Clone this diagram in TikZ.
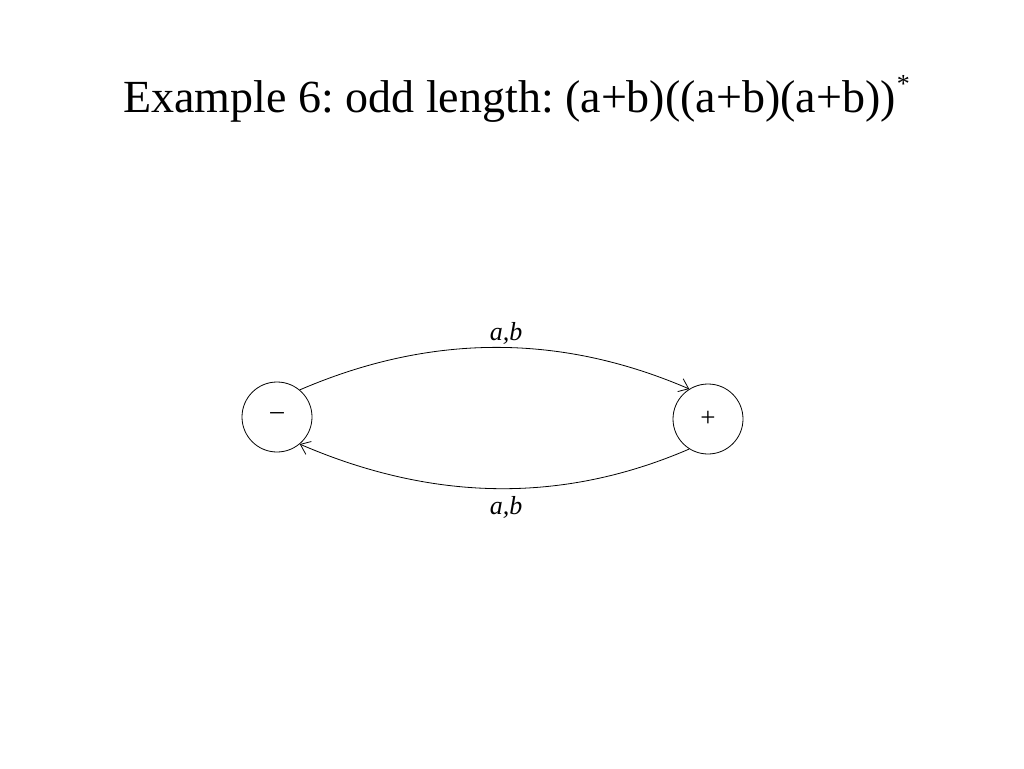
\documentclass[tikz,border=0pt]{standalone}
\usepackage{fontspec}
\setmainfont{Liberation Serif}
\usetikzlibrary{arrows.meta}
\frenchspacing
\begin{document}
\begin{tikzpicture}[x=1pt,y=-1pt,
  state/.style={draw,circle,line width=0.8pt,minimum size=70pt,inner sep=0pt,font=\fontsize{27}{29}\selectfont},
  edge/.style={draw,line width=0.8pt,-{Straight Barb[length=9pt,width=14pt]}},
  lbl/.style={font=\fontsize{26}{28}\selectfont\itshape}]
\useasboundingbox (0,0) rectangle (1024,768);
\node[anchor=base west,font=\fontsize{46}{50}\selectfont,inner sep=0pt] (title) at (123,112) {Example 6: odd length: (a+b)((a+b)(a+b))\kern1pt\raisebox{20pt}{\fontsize{26}{28}\selectfont *}};
\node[state] (m) at (277,417) {\raisebox{2pt}{–}};
\node[state] (p) at (708,419) {+};
\draw[edge] (m.50) .. controls +(130,-56) and +(-130,-56) .. (p.122);
\draw[edge] (p.-122) .. controls +(-130,56) and +(130,56) .. (m.-50);
\node[lbl] (l1) at (506,333) {a,b};
\node[lbl] (l2) at (506,507) {a,b};
\end{tikzpicture}
\end{document}
